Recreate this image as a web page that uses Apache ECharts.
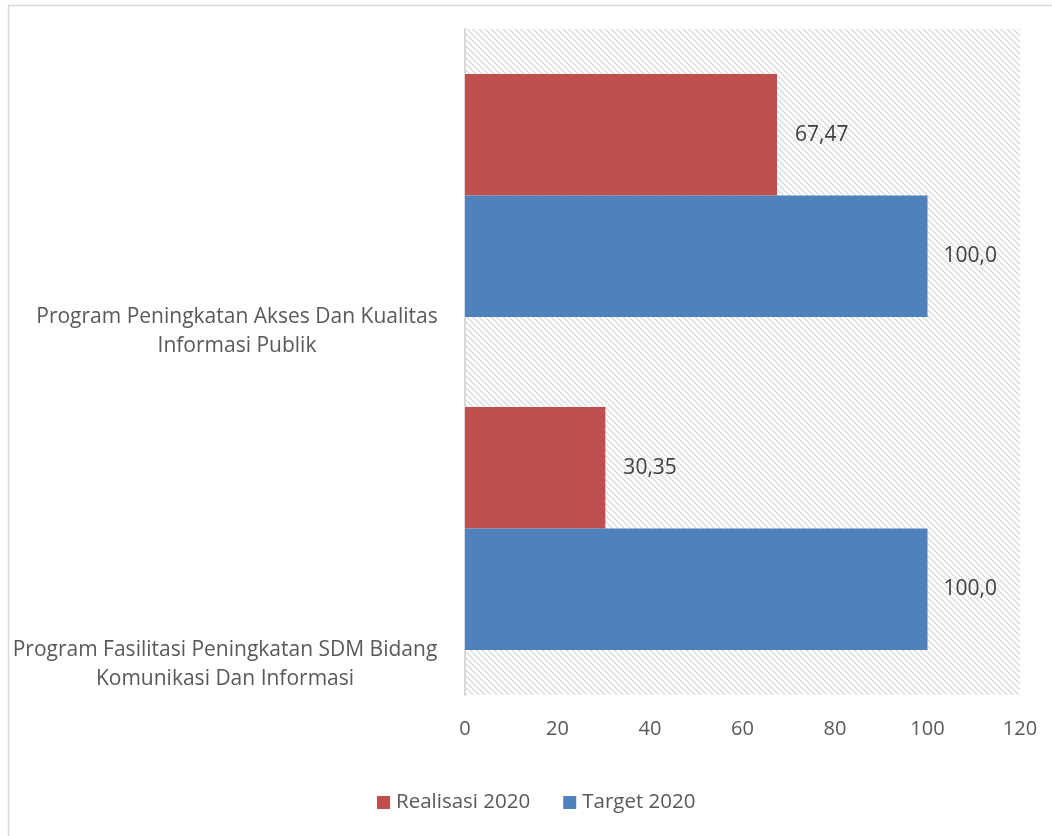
<!DOCTYPE html>
<html>
<head>
<meta charset="utf-8">
<script src="https://cdn.jsdelivr.net/npm/echarts@6/dist/echarts.min.js"></script>
<style>
html,body{margin:0;padding:0;background:#fff;}
#chart{width:1052px;height:836px;}
</style>
</head>
<body>
<div id="chart"></div>
<script>
// Data (bottom-to-top category order as ECharts draws a vertical category axis)
var categories = [
  'Program Fasilitasi Peningkatan SDM Bidang\nKomunikasi Dan Informasi',
  'Program Peningkatan Akses Dan Kualitas\nInformasi Publik'
];
var realisasi2020 = [30.35, 67.47];
var target2020 = [100.0, 100.0];
var xTicks = [0, 20, 40, 60, 80, 100, 120];

function fmt(v) {
  var s = (Math.round(v * 100) / 100).toString();
  if (s.indexOf('.') < 0) s += '.0';
  return s.replace('.', ',');
}

// hatch pattern for plot background
var pc = document.createElement('canvas');
pc.width = 6; pc.height = 6;
var g = pc.getContext('2d');
g.fillStyle = '#ffffff'; g.fillRect(0, 0, 6, 6);
g.strokeStyle = '#d4d4d4'; g.lineWidth = 1.2;
g.beginPath();
g.moveTo(-1, -1); g.lineTo(7, 7);
g.moveTo(-4, 2); g.lineTo(4, 10);
g.moveTo(2, -4); g.lineTo(10, 4);
g.stroke();

var FONT = 'Open Sans';
var FS_CAT = 21, FS_TICK = 20, FS_LBL = 21, FS_LEG = 20.5;
var chart = echarts.init(document.getElementById('chart'));
chart.setOption({
  animation: false,
  backgroundColor: '#ffffff',
  graphic: [{
    type: 'rect',
    shape: { x: 8.5, y: 5.5, width: 1100, height: 900 },
    style: { fill: 'none', stroke: '#d9d9d9', lineWidth: 1.5 }
  }],
  grid: {
    left: 465, right: 32, top: 29, bottom: 141,
    show: true, borderWidth: 0,
    backgroundColor: { image: pc, repeat: 'repeat' }
  },
  legend: {
    data: ['Realisasi 2020', 'Target 2020'],
    bottom: 18, left: 372,
    icon: 'rect', itemWidth: 13, itemHeight: 13, itemGap: 33,
    textStyle: { color: '#595959', fontSize: FS_LEG, fontFamily: FONT, padding: [0, 0, 0, 1] }
  },
  xAxis: {
    type: 'value', min: 0, max: 120, interval: 20,
    axisLine: { show: false }, axisTick: { show: false },
    splitLine: { show: false },
    axisLabel: { color: '#595959', fontSize: FS_TICK, fontFamily: FONT, margin: 24 }
  },
  yAxis: {
    type: 'category', data: categories,
    axisLine: { show: true, lineStyle: { color: '#d9d9d9', width: 2 } },
    axisTick: { show: false },
    axisLabel: {
      color: '#595959', fontSize: FS_CAT, fontFamily: FONT,
      align: 'right', verticalAlign: 'top', margin: 28,
      padding: [107, 0, 0, 0],
      formatter: function (v, i) {
        var lines = v.split('\n');
        var st = i === 0 ? 'b' : 'a';
        return lines.map(function (l) { return '{' + st + '|' + l + '}'; }).join('\n');
      },
      rich: {
        a: { width: 400, align: 'center', color: '#595959', fontSize: FS_CAT, fontFamily: FONT, lineHeight: 29 },
        b: { width: 424, align: 'center', color: '#595959', fontSize: FS_CAT, fontFamily: FONT, lineHeight: 29 }
      }
    }
  },
  series: [
    {
      name: 'Realisasi 2020', type: 'bar', data: realisasi2020,
      barGap: '0%', barCategoryGap: '27%',
      itemStyle: { color: '#C0504D' },
      label: { show: true, position: 'right', distance: 18, color: '#404040', fontSize: FS_LBL, fontFamily: FONT,
        formatter: function (p) { return fmt(p.value); } }
    },
    {
      name: 'Target 2020', type: 'bar', data: target2020,
      barGap: '0%', barCategoryGap: '27%',
      itemStyle: { color: '#4F81BD' },
      label: { show: true, position: 'right', distance: 16, color: '#404040', fontSize: FS_LBL, fontFamily: FONT,
        formatter: function (p) { return fmt(p.value); } }
    }
  ]
});
</script>
</body>
</html>
